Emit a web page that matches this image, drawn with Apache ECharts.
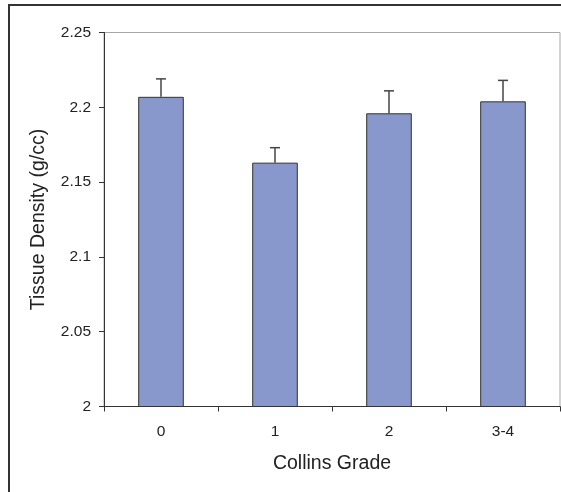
<!DOCTYPE html>
<html>
<head>
<meta charset="utf-8">
<script src="https://cdn.jsdelivr.net/npm/echarts@6/dist/echarts.min.js"></script>
<style>
  html, body { margin: 0; padding: 0; background: #fff; }
  #chart { width: 561px; height: 492px; }
</style>
</head>
<body>
<div id="chart"></div>
<script>
// Mean tissue density by Collins grade, with upper standard-error bars
const grades = ['0', '1', '2', '3-4'];
const density = [2.207, 2.163, 2.196, 2.204];
const stdErr = [0.012, 0.010, 0.015, 0.014];
const yTicks = [2, 2.05, 2.1, 2.15, 2.2, 2.25];

const FONT = '"Liberation Sans", Arial, sans-serif';
const chart = echarts.init(document.getElementById('chart'), null, { renderer: 'canvas' });

const errData = grades.map((g, i) => [i, density[i], density[i] + stdErr[i]]);

chart.setOption({
  animation: false,
  backgroundColor: '#fff',
  textStyle: { fontFamily: FONT },
  graphic: [{
    type: 'rect',
    silent: true,
    shape: { x: 9, y: 5, width: 700, height: 700 },
    style: { fill: 'none', stroke: '#333', lineWidth: 2 }
  }],
  grid: {
    left: 104, right: 1, top: 32.5, bottom: 85.5,
    show: true, borderColor: '#a8a8a8', borderWidth: 1, backgroundColor: 'transparent'
  },
  xAxis: {
    type: 'category',
    data: grades,
    boundaryGap: true,
    name: 'Collins Grade',
    nameLocation: 'middle',
    nameGap: 47,
    nameTextStyle: { fontSize: 19.5, color: '#222', fontFamily: FONT },
    axisLine: { lineStyle: { color: '#333', width: 1 } },
    axisTick: { show: true, alignWithLabel: false, length: 5, lineStyle: { color: '#333' } },
    axisLabel: { fontSize: 15.5, color: '#222', margin: 17, fontFamily: FONT },
    splitLine: { show: false }
  },
  yAxis: {
    type: 'value',
    min: yTicks[0],
    max: yTicks[yTicks.length - 1],
    interval: 0.05,
    name: 'Tissue Density (g/cc)',
    nameLocation: 'middle',
    nameGap: 55,
    nameTextStyle: { fontSize: 19.5, color: '#222', fontFamily: FONT },
    axisLine: { show: true, lineStyle: { color: '#333', width: 1 } },
    axisTick: { show: true, length: 5, lineStyle: { color: '#333' } },
    axisLabel: {
      fontSize: 15.5, color: '#222', margin: 13, fontFamily: FONT,
      formatter: v => String(+v.toFixed(2))
    },
    splitLine: { show: false }
  },
  series: [
    {
      type: 'bar',
      data: density,
      barWidth: '40%',
      itemStyle: { color: '#8897cc', borderColor: '#333', borderWidth: 1 },
      z: 2
    },
    {
      type: 'custom',
      data: errData,
      z: 3,
      renderItem: function (params, api) {
        const i = api.value(0);
        const base = api.coord([i, api.value(1)]);
        const top = api.coord([i, api.value(2)]);
        const half = 5;
        return {
          type: 'group',
          children: [
            { type: 'line', shape: { x1: base[0], y1: base[1], x2: top[0], y2: top[1] },
              style: { stroke: '#444', lineWidth: 1.5 } },
            { type: 'line', shape: { x1: top[0] - half, y1: top[1], x2: top[0] + half, y2: top[1] },
              style: { stroke: '#444', lineWidth: 1.5 } }
          ]
        };
      }
    }
  ]
});
</script>
</body>
</html>
